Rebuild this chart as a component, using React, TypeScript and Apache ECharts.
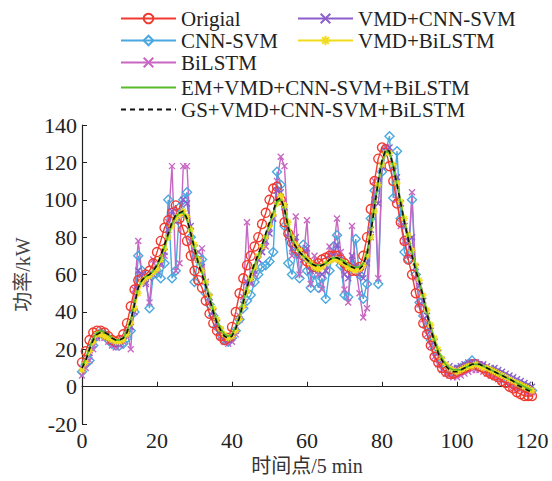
import React, { useEffect, useRef } from "react";
import * as echarts from "echarts";

// time points (5-min steps)
const timePoints: number[] = Array.from({ length: 121 }, (_, i) => i);

const original = [
  13, 19, 25, 29, 30, 30, 29, 27, 25, 24,
  25, 28, 34, 43, 52, 57, 58, 60, 62, 66,
  72, 78, 85, 89, 93, 97, 90, 84, 78, 70,
  62, 57, 53, 46, 39, 34, 30, 27, 25, 26,
  32, 40, 50, 58, 65, 70, 75, 80, 87, 93,
  100, 106, 107, 100, 88, 82, 77, 74, 72, 70,
  67, 65, 64, 66, 68, 69, 70, 70, 70, 68,
  66, 64, 62, 62, 64, 70, 80, 95, 110, 122,
  128, 127, 118, 110, 98, 88, 78, 68, 60, 50,
  42, 34, 28, 22, 16, 13, 10, 8, 7, 7,
  8, 9, 10, 11, 12, 12, 11, 10, 8, 7,
  6, 5, 3, 2, 0, -1, -3, -4, -5, -5,
  -5,
];

const cnnSvm = [
  8, 12, 14, 22, 27, 29, 28, 25, 23, 22,
  22, 23, 26, 30, 40, 70, 62, 58, 42, 60,
  62, 58, 66, 100, 58, 62, 96, 100, 104, 80,
  56, 70, 68, 50, 44, 38, 32, 28, 25, 24,
  26, 30, 36, 42, 46, 49, 56, 60, 64, 65,
  67, 72, 115, 108, 86, 66, 60, 72, 58, 76,
  62, 53, 60, 53, 58, 47, 62, 75, 81, 65,
  49, 48, 65, 79, 60, 47, 55, 90, 105, 55,
  115, 126, 134, 101, 126, 90, 72, 68, 100, 60,
  45, 38, 32, 25, 20, 16, 12, 10, 8, 8,
  9, 10, 11, 12, 14, 12, 11, 10, 9, 8,
  8, 7, 6, 5, 4, 3, 2, 1, 0, -1,
  -2,
];

const biLstm = [
  6, 10, 14, 20, 26, 27, 26, 24, 22, 21,
  22, 24, 30, 20, 52, 78, 60, 56, 45, 68,
  62, 65, 70, 88, 118, 62, 66, 118, 118, 78,
  68, 72, 74, 56, 45, 38, 32, 27, 24, 23,
  24, 28, 38, 48, 88, 55, 60, 68, 72, 75,
  85, 90, 110, 123, 118, 80, 70, 91, 60, 68,
  89, 55, 70, 60, 52, 62, 75, 72, 90, 72,
  52, 45, 86, 64, 50, 37, 42, 80, 110, 58,
  118, 128, 125, 118, 100, 86, 78, 70, 104, 58,
  44, 36, 28, 22, 16, 12, 9, 7, 6, 5,
  5, 6, 7, 8, 9, 9, 9, 8, 7, 6,
  5, 4, 3, 2, 1, 0, -1, -1, -2, -3,
  -3,
];

const vmdCnnSvm = [
  10, 13, 18, 24, 27, 28, 27, 26, 24, 23,
  23, 25, 28, 32, 40, 62, 60, 55, 58, 60,
  63, 66, 72, 84, 94, 88, 92, 100, 98, 86,
  74, 68, 64, 56, 48, 40, 34, 30, 27, 25,
  26, 30, 36, 44, 56, 56, 62, 68, 72, 78,
  82, 90, 105, 104, 96, 80, 74, 80, 70, 68,
  74, 62, 64, 62, 60, 62, 68, 70, 76, 68,
  60, 58, 70, 64, 60, 58, 66, 84, 100, 98,
  118, 126, 128, 118, 112, 98, 86, 78, 80, 64,
  54, 46, 38, 30, 24, 18, 14, 12, 11, 10,
  10, 11, 12, 13, 13, 13, 12, 12, 11, 10,
  10, 9, 8, 7, 6, 5, 4, 3, 2, 1,
  0,
];

const vmdBiLstm = [
  9, 13, 19, 24, 28, 28, 27, 26, 25, 24,
  24, 25, 28, 34, 42, 50, 56, 58, 59, 61,
  63, 68, 74, 80, 86, 90, 92, 94, 91, 84,
  76, 68, 62, 56, 49, 42, 36, 31, 28, 26,
  27, 30, 36, 43, 51, 58, 64, 70, 75, 80,
  86, 92, 98, 102, 97, 88, 80, 76, 73, 70,
  68, 66, 64, 63, 64, 66, 67, 68, 68, 67,
  66, 64, 63, 62, 63, 65, 70, 80, 94, 108,
  119, 125, 125, 119, 109, 99, 90, 81, 73, 65,
  57, 49, 41, 33, 26, 20, 15, 12, 10, 9,
  8, 9, 10, 11, 11, 12, 11, 10, 10, 9,
  8, 7, 6, 5, 4, 3, 2, 1, 0, -1,
  -2,
];

const emModel = [
  11, 15, 21, 26, 29, 30, 29, 28, 26, 25,
  25, 26, 30, 36, 45, 53, 57, 59, 60, 62,
  65, 69, 75, 81, 87, 91, 93, 93, 89, 82,
  74, 67, 61, 55, 48, 41, 35, 31, 28, 27,
  28, 32, 38, 46, 53, 60, 65, 70, 75, 81,
  87, 93, 99, 100, 95, 86, 79, 75, 72, 70,
  68, 66, 65, 65, 65, 66, 68, 69, 69, 68,
  67, 65, 64, 64, 64, 66, 72, 83, 97, 110,
  120, 126, 125, 118, 108, 98, 88, 80, 72, 64,
  56, 48, 40, 32, 25, 19, 15, 12, 10, 9,
  9, 9, 10, 11, 12, 12, 12, 11, 10, 9,
  8, 7, 6, 5, 4, 3, 2, 1, 0, -1,
  -2,
];

const gsModel = [
  10, 14, 20, 25, 28, 29, 29, 28, 26, 25,
  25, 26, 29, 35, 44, 53, 57, 59, 60, 62,
  65, 70, 76, 82, 88, 92, 93, 94, 90, 82,
  74, 66, 60, 54, 47, 40, 34, 30, 27, 26,
  27, 31, 37, 45, 53, 60, 66, 71, 76, 82,
  88, 94, 100, 101, 95, 85, 78, 75, 72, 70,
  68, 66, 65, 64, 65, 66, 68, 69, 69, 68,
  66, 65, 64, 63, 63, 65, 71, 82, 96, 110,
  121, 127, 126, 118, 108, 98, 88, 79, 70, 62,
  56, 48, 39, 31, 24, 18, 14, 11, 9, 8,
  8, 9, 10, 11, 12, 12, 12, 11, 10, 9,
  8, 7, 6, 5, 4, 3, 1, 0, -1, -2,
  -3,
];

const seriesNames = [
  "Origial",
  "CNN-SVM",
  "BiLSTM",
  "VMD+CNN-SVM",
  "VMD+BiLSTM",
  "EM+VMD+CNN-SVM+BiLSTM",
  "GS+VMD+CNN-SVM+BiLSTM",
];

const FONT = "'Liberation Serif', 'Times New Roman', 'Noto Sans CJK SC', serif";
const TEXT_COLOR = "#222";

const CROSS = "path://M0,0L10,10M10,0L0,10";
const STAR = "path://M5,0L5,10M0,5L10,5M1.5,1.5L8.5,8.5M8.5,1.5L1.5,8.5";

export default function App() {
  const ref = useRef<HTMLDivElement>(null);

  useEffect(() => {
    if (!ref.current) return;
    const chart = echarts.init(ref.current, undefined, { renderer: "svg" });

    const toData = (vals: number[]) => vals.map((v, i) => [timePoints[i], v]);

    const markerSeries = (
      name: string,
      vals: number[],
      color: string,
      symbol: string,
      size: number,
      z: number
    ) => ({
      name,
      type: "line",
      data: toData(vals),
      symbol,
      symbolSize: size,
      showSymbol: true,
      z,
      lineStyle: { color, width: 1.4 },
      itemStyle: { color: "rgba(0,0,0,0)", borderColor: color, borderWidth: 1.4 },
      emphasis: { disabled: true },
    });

    const legendPos: { name: string; left: number; top: number; noSymbol?: boolean }[] = [
      { name: seriesNames[0], left: 120, top: 8 },
      { name: seriesNames[1], left: 120, top: 30 },
      { name: seriesNames[2], left: 120, top: 52 },
      { name: seriesNames[5], left: 120, top: 77, noSymbol: true },
      { name: seriesNames[6], left: 120, top: 99, noSymbol: true },
      { name: seriesNames[3], left: 297, top: 8 },
      { name: seriesNames[4], left: 297, top: 30 },
    ];

    chart.setOption({
      animation: false,
      backgroundColor: "#ffffff",
      legend: legendPos.map((l) => ({
        data: [l.name],
        left: l.left,
        top: l.top,
        padding: 0,
        itemWidth: 55,
        itemHeight: 12,
        itemGap: 5,
        selectedMode: false,
        ...(l.noSymbol
          ? { itemStyle: { color: "rgba(0,0,0,0)", borderColor: "rgba(0,0,0,0)", borderWidth: 0 } }
          : {}),
        textStyle: { fontFamily: FONT, fontSize: 21, color: TEXT_COLOR, lineHeight: 21 },
      })),
      grid: { left: 82, right: 20, top: 125, bottom: 50, containLabel: false },
      xAxis: {
        type: "value",
        min: 0,
        max: 120,
        interval: 20,
        name: "时间点/5 min",
        nameLocation: "middle",
        nameGap: 29,
        nameTextStyle: { fontFamily: FONT, fontSize: 20, color: "#333" },
        axisLine: { lineStyle: { color: "#222", width: 1.2 } },
        axisTick: { inside: true, length: 5, lineStyle: { color: "#222" } },
        axisLabel: { fontFamily: FONT, fontSize: 22, color: TEXT_COLOR, margin: 5 },
        splitLine: { show: false },
      },
      yAxis: {
        type: "value",
        min: -20,
        max: 140,
        interval: 20,
        name: "功率/kW",
        nameLocation: "middle",
        nameGap: 41,
        nameRotate: 90,
        nameTextStyle: { fontFamily: FONT, fontSize: 20, color: "#444" },
        axisLine: { show: true, lineStyle: { color: "#222", width: 1.2 } },
        axisTick: { show: true, inside: true, length: 5, lineStyle: { color: "#222" } },
        axisLabel: { fontFamily: FONT, fontSize: 22, color: TEXT_COLOR, margin: 5 },
        splitLine: { show: false },
      },
      series: [
        markerSeries(seriesNames[0], original, "#f03a2e", "circle", 9, 3),
        markerSeries(seriesNames[1], cnnSvm, "#4aa8df", "diamond", 9, 2),
        markerSeries(seriesNames[2], biLstm, "#c767c2", CROSS, 6, 2),
        markerSeries(seriesNames[3], vmdCnnSvm, "#8c5fcc", CROSS, 6, 3),
        markerSeries(seriesNames[4], vmdBiLstm, "#f0dc1c", STAR, 7, 4),
        {
          name: seriesNames[5],
          type: "line",
          data: toData(emModel),
          symbol: "none",
          showSymbol: false,
          z: 5,
          lineStyle: { color: "#58bb2c", width: 1.8 },
          itemStyle: { color: "#58bb2c" },
          emphasis: { disabled: true },
        },
        {
          name: seriesNames[6],
          type: "line",
          data: toData(gsModel),
          symbol: "none",
          showSymbol: false,
          z: 6,
          lineStyle: { color: "#111", width: 1.6, type: [5, 4] },
          itemStyle: { color: "#111" },
          emphasis: { disabled: true },
        },
      ],
    });

    return () => chart.dispose();
  }, []);

  return (
    <div
      ref={ref}
      style={{ position: "fixed", left: 0, top: 0, width: 552, height: 481, background: "#fff" }}
    />
  );
}
